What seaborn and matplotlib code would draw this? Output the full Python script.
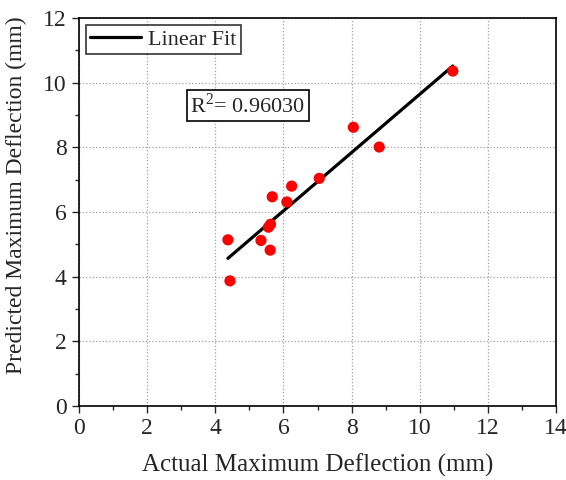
import matplotlib
matplotlib.use("Agg")
import matplotlib.pyplot as plt
import seaborn as sns
from matplotlib.ticker import MultipleLocator

actual = [10.97, 8.05, 8.81, 7.05, 6.24, 5.67, 6.10, 5.62, 5.56, 4.37, 5.34, 5.61, 4.43]
predicted = [10.36, 8.62, 8.01, 7.04, 6.80, 6.47, 6.31, 5.62, 5.53, 5.14, 5.12, 4.82, 3.87]

sns.set_style("ticks")
plt.rcParams["font.family"] = "serif"
plt.rcParams["font.serif"] = ["Liberation Serif", "DejaVu Serif"]
plt.rcParams["mathtext.fontset"] = "custom"
plt.rcParams["mathtext.rm"] = "Liberation Serif"

fig = plt.figure(figsize=(5.66, 4.8), dpi=100)
ax = fig.add_axes([0.1396, 0.1542, 0.8428, 0.8083])

sns.scatterplot(x=actual, y=predicted, color="red", s=65, edgecolor="none", ax=ax, zorder=3)
sns.regplot(x=actual, y=predicted, ci=None, scatter=False, ax=ax, label="Linear Fit",
            line_kws={"color": "black", "lw": 2.3})

ax.set_xlim(0, 14)
ax.set_ylim(0, 12)
ax.xaxis.set_major_locator(MultipleLocator(2))
ax.xaxis.set_minor_locator(MultipleLocator(1))
ax.yaxis.set_major_locator(MultipleLocator(2))
ax.yaxis.set_minor_locator(MultipleLocator(1))
ax.grid(True, which="major", color="#a0a0a0", linestyle=":", linewidth=0.9)
ax.set_axisbelow(True)
ax.tick_params(which="major", direction="out", length=5, width=1, labelsize=17, pad=4)
ax.tick_params(which="minor", direction="out", length=3, width=1)
for sp in ax.spines.values():
    sp.set_visible(True)
    sp.set_linewidth(1.2)
    sp.set_color("black")

ax.set_xlabel("Actual Maximum Deflection (mm)", fontsize=18, labelpad=10)
ax.set_ylabel("Predicted Maximum Deflection (mm)", fontsize=17)
ax.yaxis.set_label_coords(-0.11, 0.544)

leg = ax.legend(loc="upper left", fontsize=16, frameon=True, fancybox=False,
                edgecolor="black", handlelength=2.3, handletextpad=0.3,
                borderpad=0.2, borderaxespad=0.3)
leg.get_frame().set_linewidth(1.2)

ax.text(3.27, 9.29, "R$^2$= 0.96030", fontsize=16, ha="left", va="center",
        bbox=dict(boxstyle="square,pad=0.15", facecolor="white", edgecolor="black", lw=1.2))

fig.savefig("out.png", dpi=100)
plt.close(fig)
